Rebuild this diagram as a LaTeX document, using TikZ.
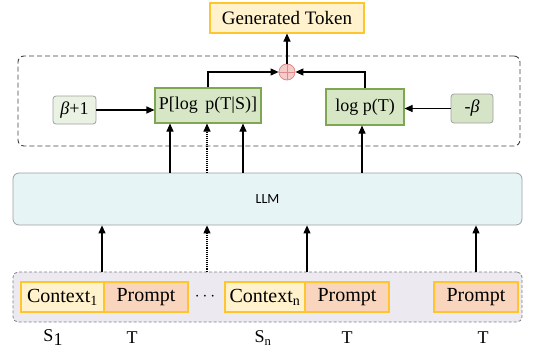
\documentclass[tikz,border=0pt]{standalone}
\usepackage{fontspec}
\setmainfont{Liberation Serif}
\newfontfamily\llmfont{Carlito}
\usetikzlibrary{arrows.meta,positioning,calc}
\definecolor{genfill}{HTML}{FFF2CC}
\definecolor{gold}{HTML}{FFC52E}
\definecolor{grfill}{HTML}{D7E7C5}
\definecolor{grdraw}{HTML}{7FA653}
\definecolor{lgfill}{HTML}{EAF2E3}
\definecolor{mgfill}{HTML}{D5E4C6}
\definecolor{boxgrey}{HTML}{A0A0A0}
\definecolor{llmfill}{HTML}{E7F4F6}
\definecolor{inpfill}{HTML}{ECE9F1}
\definecolor{peach}{HTML}{F8D5BC}
\definecolor{plusfill}{HTML}{F4CCCC}
\definecolor{plusdraw}{HTML}{E08A8A}
\begin{document}
\begin{tikzpicture}[x=1pt,y=-1pt,
  base/.style={inner sep=0pt, line width=1.1pt, font=\fontsize{18}{20}\selectfont},
  genbox/.style={base, draw=gold, fill=genfill, minimum width=154pt, minimum height=30pt, font=\fontsize{19}{21}\selectfont},
  greenbox/.style={base, draw=grdraw, fill=grfill, minimum height=35pt},
  coefbox/.style={base, draw=boxgrey, line width=0.8pt, rounded corners=3pt, minimum height=29pt},
  ctxbox/.style={base, draw=gold, fill=genfill, minimum height=30pt, font=\fontsize{20}{22}\selectfont},
  prbox/.style={base, draw=gold, fill=peach, minimum width=84pt, minimum height=30pt, font=\fontsize{20}{22}\selectfont},
  lbl/.style={inner sep=0pt, font=\fontsize{18}{20}\selectfont},
  arr/.style={line width=1.1pt, -{Triangle[length=8pt,width=7pt]}},
  darr/.style={arr, densely dotted},
  ln/.style={line width=1.1pt}
]
\useasboundingbox (0,0) rectangle (559,356);

% outer dashed box
\node[draw=black!75, dash pattern=on 5pt off 3pt, line width=0.9pt, rounded corners=6pt, minimum width=502pt, minimum height=90pt, inner sep=0pt] (grp) at (269,101) {};

% bottom input box
\node[draw=black!50, dash pattern=on 3pt off 2pt, fill=inpfill, line width=0.8pt, rounded corners=5pt, minimum width=509pt, minimum height=50pt, inner sep=0pt] (inp) at (267.5,297) {};

% LLM
\node[draw=boxgrey, fill=llmfill, line width=0.8pt, rounded corners=6pt, minimum width=509pt, minimum height=52pt, inner sep=0pt, font=\llmfont\fontsize{14}{16}\selectfont] (llm) at (267.5,199) {LLM};

% top nodes
\node[genbox] (gen) at (287,18) {Generated Token};
\node[draw=plusdraw, fill=plusfill, circle, minimum size=16pt, inner sep=0pt, line width=0.8pt] (plus) at (287,72) {};
\draw[plusdraw, line width=0.8pt] (plus.north) -- (plus.south) (plus.west) -- (plus.east);

\node[greenbox, minimum width=106pt] (pts) at (208,105.5) {P[log\, p(T|S)]};
\node[greenbox, minimum width=78pt, minimum height=36pt] (pt) at (365,107) {log p(T)};
\node[coefbox, fill=lgfill, minimum width=43pt, minimum height=28pt] (b1) at (74.5,110) {\textit{β}+1};
\node[coefbox, fill=mgfill, minimum width=42pt] (mb) at (472,108.5) {-\textit{β}};

% inputs
\node[ctxbox, minimum width=83pt] (c1) at (62.5,297) {Context\textsubscript{1}};
\node[prbox] (p1) at (146,297) {Prompt};
\node[lbl] (dots) at (205,297) {$\cdots$};
\node[ctxbox, minimum width=80pt] (cn) at (265,297) {Context\textsubscript{n}};
\node[prbox] (pn) at (347,297) {Prompt};
\node[prbox] (p3) at (476,297) {Prompt};

% labels
\node[lbl] (s1) at (53,338) {S\raisebox{-4pt}{1}};
\node[lbl] (t1) at (132,338) {T};
\node[lbl] (sn) at (263,338) {S\textsubscript{n}};
\node[lbl] (t2) at (347,338) {T};
\node[lbl] (t3) at (483,338) {T};

% connectors top
\draw[arr] (plus.north) -- (gen.south);
\draw[arr] (pts.north) |- (plus.west);
\draw[arr] (pt.north) |- (plus.east);
\draw[arr] (b1.east) -- (pts.west |- b1.east);
\draw[arr] (mb.west) -- (pt.east |- mb.west);

% LLM -> green boxes
\draw[arr] (llm.north -| 170,0) -- (pts.south -| 170,0);
\draw[darr] (llm.north -| 207,0) -- (pts.south -| 207,0);
\draw[arr] (llm.north -| 243,0) -- (pts.south -| 243,0);
\draw[arr] (llm.north -| 362,0) -- (pt.south -| 362,0);

% inputs -> LLM
\draw[arr] (inp.north -| 102,0) -- (llm.south -| 102,0);
\draw[darr] (inp.north -| 207,0) -- (llm.south -| 207,0);
\draw[arr] (inp.north -| 307,0) -- (llm.south -| 307,0);
\draw[arr] (inp.north -| 476,0) -- (llm.south -| 476,0);
\end{tikzpicture}
\end{document}
